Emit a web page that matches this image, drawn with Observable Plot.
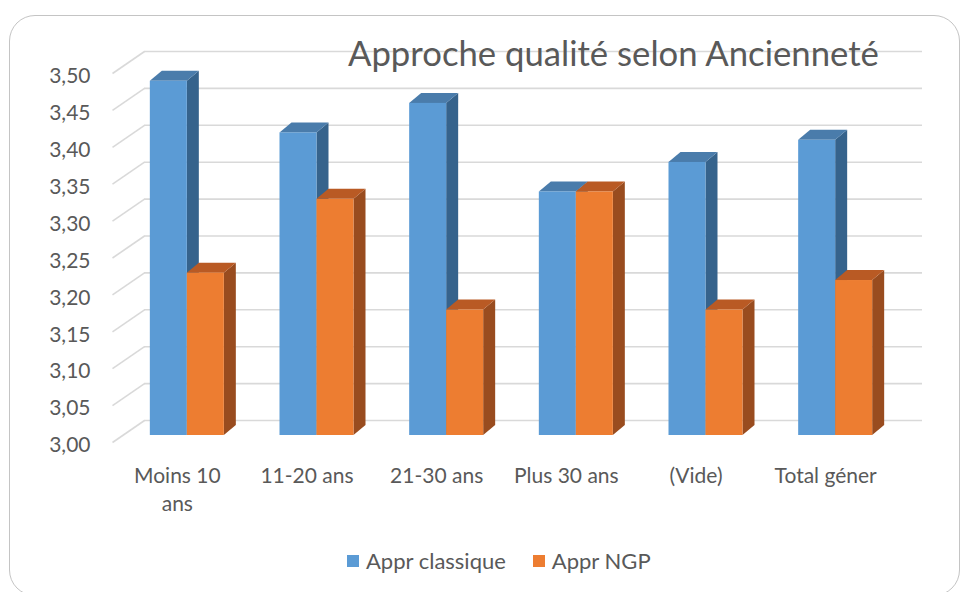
<!DOCTYPE html>
<html>
<head>
<meta charset="utf-8">
<script src="https://cdn.jsdelivr.net/npm/d3@7"></script>
<script src="https://cdn.jsdelivr.net/npm/@observablehq/plot@0.6"></script>
<style>
  html, body { margin: 0; padding: 0; background: #fff; }
  #wrap { position: relative; width: 965px; height: 592px; overflow: hidden; font-family: Lato, "Open Sans", sans-serif; color: #595959; }
  #border { position: absolute; left: 9px; top: 15px; width: 951px; height: 581px; border: 1.5px solid #c4c4c4; border-radius: 26px; box-sizing: border-box; }
  #chart { position: absolute; left: 0; top: 0; }
  #title { position: absolute; left: 348px; top: 36px; font-size: 34.7px; line-height: 1; white-space: nowrap; }
  #legend { position: absolute; left: 347px; top: 550px; font-size: 22px; line-height: 1; display: flex; align-items: center; white-space: nowrap; }
  .sw { display: inline-block; width: 12px; height: 12px; margin-right: 7px; }
  .item { display: flex; align-items: center; margin-right: 27px; }
</style>
</head>
<body>
<div id="wrap">
  <div id="border"></div>
  <div id="chart"></div>
  <div id="title">Approche qualité selon Ancienneté</div>
  <div id="legend"></div>
</div>
<script>
// ---- data ----
const categories = ["Moins 10\nans", "11-20 ans", "21-30 ans", "Plus 30 ans", "(Vide)", "Total géner"];
const seriesNames = ["Appr classique", "Appr NGP"];
const classique = [3.48, 3.41, 3.45, 3.33, 3.37, 3.40];
const ngp = [3.22, 3.32, 3.17, 3.33, 3.17, 3.21];
const yTicks = [3.00, 3.05, 3.10, 3.15, 3.20, 3.25, 3.30, 3.35, 3.40, 3.45, 3.50];

// ---- styling ----
const colors = {
  front: ["#5b9bd5", "#ed7d31"],
  top: ["#4a7cab", "#b95a24"],
  side: ["#36638c", "#994c1f"]
};

const W = 965, H = 592;
const mL = 122, mR = 65, mT = 66, mB = 157;
const xDomain = [-0.5, categories.length - 0.5];
const yDomain = [3.0, 3.5];
const kx = (W - mL - mR) / (xDomain[1] - xDomain[0]); // px per x unit
const ky = (H - mT - mB) / (yDomain[1] - yDomain[0]); // px per y unit
const barW = 37 / kx;
const dX = 12 / kx, dY = 10 / ky;          // bar depth
const wallX = 32 / kx, wallY = 22 / ky;    // floor depth (front -> back)
const frontDx = -10, frontDy = 7;           // front plane offset (px)
const backDx = 22, backDy = -15;            // back wall offset (px)

const series = [classique, ngp];
const bars = [];
series.forEach((vals, s) => {
  vals.forEach((v, i) => {
    const x1 = i + (s === 0 ? -barW : 0);
    bars.push({ id: `${s}-${i}`, s, i, x1, x2: x1 + barW, v });
  });
});
const sidePts = bars.flatMap(b => [
  { id: b.id, s: b.s, x: b.x2, y1: yDomain[0], y2: b.v },
  { id: b.id, s: b.s, x: b.x2 + dX, y1: yDomain[0] + dY, y2: b.v + dY }
]);
const topPts = bars.flatMap(b => [
  { id: b.id, s: b.s, y: b.v, x1: b.x1, x2: b.x2 },
  { id: b.id, s: b.s, y: b.v + dY, x1: b.x1 + dX, x2: b.x2 + dX }
]);

const fmt = d => d3.format(".2f")(d).replace(".", ",");
const catRows = categories.map((c, i) => ({ c, i }));

const marks = [
  // back wall gridlines
  Plot.ruleY(yTicks, { y: d => d, x1: xDomain[0], x2: xDomain[1], dx: backDx, dy: backDy, stroke: "#d9d9d9", strokeWidth: 1.6 }),
  // side wall slanted gridlines
  Plot.link(yTicks, { x1: xDomain[0], y1: d => d, x2: xDomain[0] + wallX, y2: d => d + wallY, dx: frontDx, dy: frontDy, stroke: "#d9d9d9", strokeWidth: 1.6 }),
];
[0, 1].forEach(s => {
  marks.push(
    Plot.areaY(sidePts.filter(d => d.s === s), { x: "x", y1: "y1", y2: "y2", z: "id", fill: colors.side[s], curve: "linear" }),
    Plot.areaX(topPts.filter(d => d.s === s), { y: "y", x1: "x1", x2: "x2", z: "id", fill: colors.top[s], curve: "linear" }),
    Plot.rect(bars.filter(d => d.s === s), { x1: "x1", x2: "x2", y1: yDomain[0], y2: "v", fill: colors.front[s] })
  );
});
marks.push(
  Plot.axisY(yTicks, { tickSize: 0, tickPadding: 32, dy: frontDy + 3, tickFormat: fmt, fontSize: 21, fill: "#595959", label: null }),
  Plot.text(catRows, { x: d => d.i, y: yDomain[0], text: "c", dx: frontDx, dy: 28, lineAnchor: "top", lineHeight: 1.32, fontSize: 21, fill: "#595959", textAnchor: "middle" })
);

const chart = Plot.plot({
  width: W, height: H,
  marginLeft: mL, marginRight: mR, marginTop: mT, marginBottom: mB,
  style: { fontFamily: "Lato, 'Open Sans', sans-serif", background: "transparent", overflow: "visible" },
  x: { type: "linear", domain: xDomain, axis: null },
  y: { type: "linear", domain: yDomain, axis: null },
  marks
});
document.getElementById("chart").appendChild(chart);

// legend
const legend = document.getElementById("legend");
seriesNames.forEach((n, s) => {
  const it = document.createElement("div");
  it.className = "item";
  const sw = document.createElement("span");
  sw.className = "sw";
  sw.style.background = colors.front[s];
  it.appendChild(sw);
  it.appendChild(document.createTextNode(n));
  legend.appendChild(it);
});
</script>
</body>
</html>
